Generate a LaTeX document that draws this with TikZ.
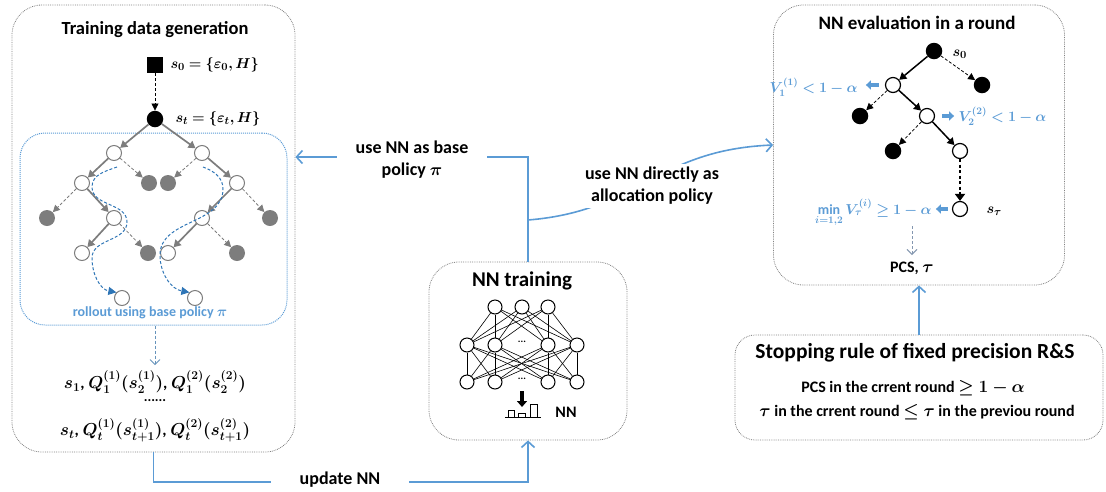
\documentclass[tikz,border=0pt]{standalone}
\usepackage{fontspec}
\setmainfont{Carlito}
\usepackage{amsmath,bm}
\usetikzlibrary{arrows.meta,calc}
\definecolor{lblue}{RGB}{91,155,213}
\definecolor{dblue}{RGB}{46,117,182}
\definecolor{tgray}{RGB}{125,125,125}
\definecolor{pgray}{RGB}{132,151,176}
\begin{document}
\begin{tikzpicture}[x=1pt,y=-1pt,
  every node/.style={font=\bfseries},
  bigbox/.style={draw=black!50, densely dotted, line width=0.8pt, rounded corners=30pt, inner sep=0pt},
  bluebox/.style={draw=lblue, densely dotted, line width=1pt, rounded corners=25pt, inner sep=0pt},
  titletxt/.style={font=\fontsize{18.5}{21}\selectfont\bfseries},
  mtxt/.style={font=\fontsize{15}{18}\selectfont\bfseries},
  qtxt/.style={font=\fontsize{16.5}{19}\selectfont\bfseries},
  btxt/.style={font=\fontsize{14}{17}\selectfont\bfseries, text=lblue},
  lbl/.style={font=\fontsize{18}{22}\selectfont\bfseries, align=center, fill=white},
  gopen/.style={circle, draw=tgray, line width=1pt, fill=white, minimum size=15pt, inner sep=0pt},
  gfill/.style={circle, fill=tgray, minimum size=16pt, inner sep=0pt},
  bopen/.style={circle, draw=black, line width=1.2pt, fill=white, minimum size=15pt, inner sep=0pt},
  bfill/.style={circle, fill=black, minimum size=16.5pt, inner sep=0pt},
  nnode/.style={circle, draw=black, line width=1pt, fill=white, minimum size=14pt, inner sep=0pt},
  gsolid/.style={draw=tgray, line width=1.7pt, -{Triangle[length=7pt,width=8pt]}},
  gdash/.style={draw=tgray, line width=0.8pt, dash pattern=on 3pt off 2pt, -{Triangle[length=7pt,width=7pt]}},
  ksolid/.style={draw=black, line width=1.5pt, -{Triangle[length=7pt,width=8pt]}},
  kdash/.style={draw=black, line width=0.8pt, dash pattern=on 3pt off 2pt, -{Triangle[length=7pt,width=7pt]}},
  conn/.style={draw=lblue, line width=1.6pt, -{Straight Barb[length=6pt,width=13pt]}},
  roll/.style={draw=dblue, line width=1pt, dash pattern=on 3pt off 2pt, -{Triangle[length=8pt,width=8pt]}},
  blockl/.style={draw=lblue, line width=3.5pt, -{Triangle[length=5pt,width=9pt]}},
  netline/.style={draw=black, line width=0.6pt}
]
\useasboundingbox (0,0) rectangle (1106,491);

% ---------------- Left box: training data generation
\node[bigbox, minimum width=283pt, minimum height=447pt] (lbox) at (153.5,228.5) {};
\node[titletxt] (ltitle) at (155,30) {Training data generation};
\node[fill=black, minimum size=16pt, inner sep=0pt] (s0) at (155,65) {};
\node[mtxt, anchor=west] (s0l) at (167,65) {$\bm{s_0=\{\varepsilon_0,H\}}$};
\node[bfill] (st) at (155,119) {};
\node[mtxt, anchor=west] (stl) at (172,119) {$\bm{s_t=\{\varepsilon_t,H\}}$};
\draw[kdash] (s0) -- (st);

\node[bluebox, minimum width=267pt, minimum height=192pt] (bbox) at (153.5,229) {};

\node[gopen] (a1) at (114,153) {};
\node[gopen] (a2) at (202,153) {};
\node[gopen] (b1) at (82,183) {};
\node[gfill] (b2) at (149,183) {};
\node[gfill] (b3) at (168,183) {};
\node[gopen] (b4) at (237,183) {};
\node[gfill] (c1) at (47,218) {};
\node[gopen] (c2) at (114,218) {};
\node[gopen] (c3) at (202,218) {};
\node[gfill] (c4) at (270,218) {};
\node[gopen] (d1) at (82,253) {};
\node[gfill] (d2) at (148,253) {};
\node[gopen] (d3) at (168,253) {};
\node[gfill] (d4) at (237,253) {};
\node[gopen] (r1) at (122,298) {};
\node[gopen] (r2) at (195,298) {};

\draw[gsolid] (st) -- (a1);
\draw[gsolid] (st) -- (a2);
\draw[gsolid] (a1) -- (b1);
\draw[gsolid] (a2) -- (b4);
\draw[gsolid] (b1) -- (c2);
\draw[gsolid] (b4) -- (c3);
\draw[gsolid] (c2) -- (d1);
\draw[gsolid] (c3) -- (d3);
\draw[gdash] (a1) -- (b2);
\draw[gdash] (a2) -- (b3);
\draw[gdash] (b1) -- (c1);
\draw[gdash] (b4) -- (c4);
\draw[gdash] (c2) -- (d2);
\draw[gdash] (c3) -- (d4);

\coordinate (la) at (117,167);
\coordinate (lb) at (92,187);
\coordinate (lc) at (127,222);
\coordinate (ld) at (92,258);
\coordinate (ra) at (203,167);
\coordinate (rb) at (223,189);
\coordinate (rc) at (160,255);
\draw[roll] (la) to[out=200,in=90] (lb) to[out=270,in=90] (lc) to[out=270,in=90] (ld) to[out=270,in=170] (r1.135);
\draw[roll] (ra) to[out=-20,in=90] (rb) to[out=270,in=90] (rc) to[out=270,in=170] (r2.135);

\node[btxt] (rolltxt) at (150,313) {rollout using base policy $\bm{\pi}$};

\node[qtxt] (q1) at (155,382) {$\bm{s_1}$, $\bm{Q_1^{(1)}(s_2^{(1)})}$, $\bm{Q_1^{(2)}(s_2^{(2)})}$};
\node[font=\fontsize{14}{14}\selectfont\bfseries] (qd) at (155,401) {......};
\node[qtxt] (q2) at (155,430) {$\bm{s_t}$, $\bm{Q_t^{(1)}(s_{t+1}^{(1)})}$, $\bm{Q_t^{(2)}(s_{t+1}^{(2)})}$};
\draw[draw=lblue!70!gray, line width=0.9pt, dash pattern=on 3pt off 2pt, -{Straight Barb[length=5pt,width=10pt]}] (bbox.south -| q1) -- ($(q1.north)+(0,-2)$);

% ---------------- NN training box
\node[bigbox, minimum width=198pt, minimum height=178pt] (nnbox) at (528,351) {};
\node[font=\fontsize{21}{24}\selectfont\bfseries] (nntitle) at (522,281) {NN training};
\node[nnode] (t1) at (495,307) {};
\node[nnode] (t2) at (522,307) {};
\node[nnode] (t3) at (548,307) {};
\node[nnode] (m1) at (467,345) {};
\node[nnode] (m2) at (495,345) {};
\node[nnode] (m3) at (548,345) {};
\node[nnode] (m4) at (577,345) {};
\node[nnode] (n1) at (467,382) {};
\node[nnode] (n2) at (495,382) {};
\node[nnode] (n3) at (548,382) {};
\node[nnode] (n4) at (577,382) {};
\foreach \u in {t1,t2,t3}{\foreach \v in {m1,m2,m3,m4}{\draw[netline] (\u) -- (\v);}}
\foreach \u in {m1,m2,m3,m4}{\foreach \v in {n1,n2,n3,n4}{\draw[netline] (\u) -- (\v);}}
\node[font=\fontsize{10}{10}\selectfont\bfseries, inner sep=0pt] (md) at (522,342) {...};
\node[font=\fontsize{10}{10}\selectfont\bfseries, inner sep=0pt] (nd) at (522,379) {...};
\coordinate (ka) at (522,391);
\coordinate (kb) at (522,407);
\draw[draw=black, line width=3.5pt, -{Triangle[length=6pt,width=10pt]}] (ka) -- (kb);
\draw[line width=1pt] (505,417) -- (541,417);
\draw[line width=1pt] (508,417) -- (508,410) -- (514,410) -- (514,417);
\draw[line width=1pt] (518,417) -- (518,413) -- (525,413) -- (525,417);
\draw[line width=1pt] (530,417) -- (530,404) -- (537,404) -- (537,417);
\node[font=\fontsize{16}{18}\selectfont\bfseries] (nnl) at (566,412) {NN};

% ---------------- Right box: NN evaluation
\node[bigbox, minimum width=291pt, minimum height=280pt] (rbox) at (919,145) {};
\node[font=\fontsize{19}{22}\selectfont\bfseries] (rtitle) at (917,23) {NN evaluation in a round};
\node[bfill] (e0) at (934,51) {};
\node[mtxt, anchor=west] (e0l) at (949,54) {$\bm{s_0}$};
\node[bopen] (e1) at (893,85) {};
\node[bfill] (e2) at (982,85) {};
\node[bfill] (f1) at (860,116) {};
\node[bopen] (f2) at (927,116) {};
\node[bfill] (g1) at (893,151) {};
\node[bopen] (g2) at (960,151) {};
\node[bopen] (h) at (960,209) {};
\node[mtxt, anchor=west] (hl) at (983,211) {$\bm{s_\tau}$};
\draw[ksolid] (e0) -- (e1);
\draw[kdash] (e0) -- (e2);
\draw[ksolid] (e1) -- (f2);
\draw[kdash] (e1) -- (f1);
\draw[ksolid] (f2) -- (g2);
\draw[kdash] (f2) -- (g1);
\draw[draw=black, line width=2.5pt, dash pattern=on 3pt off 2.5pt, -{Triangle[length=7pt,width=10pt]}] (g2) -- (h);

\node[btxt, anchor=east] (v1) at (861,87) {$\bm{V_1^{(1)}<1-\alpha}$};
\draw[blockl] ($(e1.west)+(-6,0)$) -- ($(e1.west)+(-19,0)$);
\node[btxt, anchor=west] (v2) at (955,116) {$\bm{V_2^{(2)}<1-\alpha}$};
\draw[blockl] ($(f2.east)+(7,0)$) -- ($(f2.east)+(19,0)$);
\node[btxt, anchor=east] (v3) at (935,213) {$\mathop{\mathbf{min}}\limits_{\bm{i=1,2}}\bm{V_\tau^{(i)}\geq1-\alpha}$};
\draw[blockl] ($(h.west)+(-4,0)$) -- ($(h.west)+(-16,0)$);

\node[font=\fontsize{16}{19}\selectfont\bfseries] (pcs) at (912,268) {PCS, $\bm{\tau}$};
\draw[draw=pgray, line width=1pt, dash pattern=on 3pt off 2pt, -{Straight Barb[length=5pt,width=10pt]}] ($(pcs.north)+(0,-32)$) -- ($(pcs.north)+(0,-3)$);

% ---------------- Stopping rule box
\node[bigbox, minimum width=368pt, minimum height=105pt, rounded corners=20pt] (sbox) at (919,387.5) {};
\node[font=\fontsize{21.5}{24}\selectfont\bfseries] (stitle) at (915,353) {Stopping rule of fixed precision R\&S};
\node[font=\fontsize{16}{18}\selectfont\bfseries] (sl1) at (913,388) {PCS in the crrent round $\bm{\geq 1-\alpha}$};
\node[font=\fontsize{16}{18}\selectfont\bfseries] (sl2) at (917,412) {$\bm{\tau}$ in the crrent round $\bm{\leq \tau}$ in the previou round};

% ---------------- Connectors
\coordinate (j1) at (528,157);
\coordinate (j2) at (528,220);
\draw[conn] (nnbox.north) -- (j1) -- (lbox.east |- j1);
\node[lbl, minimum width=150pt] (lab1) at (412,160) {use NN as base\\policy $\bm{\pi}$};
\draw[conn] (j2) .. controls (640,211) and (655,150) .. (rbox.west);
\node[lbl] (lab2) at (652,186) {use NN directly as\\allocation policy};
\coordinate (ub) at (340,482);
\draw[conn] (lbox.south) |- (ub) -| (nnbox.south);
\node[lbl, minimum width=138pt] (lab3) at (340,480) {update NN};
\draw[conn] (sbox.north) -- (rbox.south);
\end{tikzpicture}
\end{document}
